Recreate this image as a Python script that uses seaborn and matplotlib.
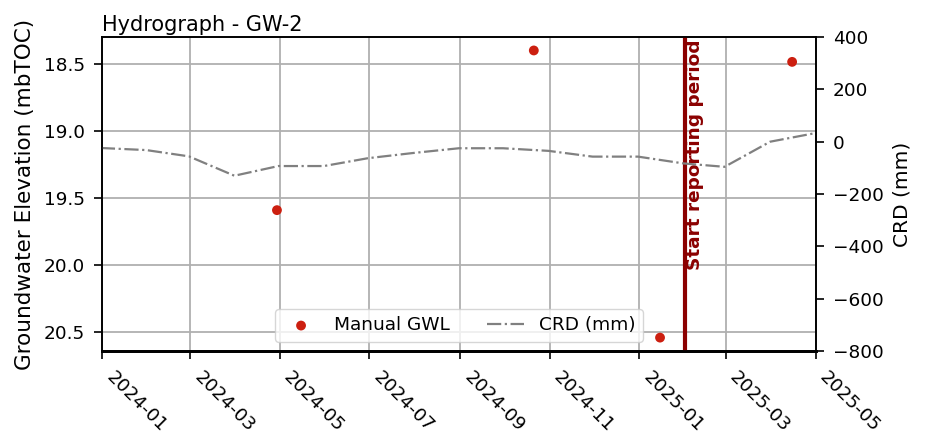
import numpy as np
import pandas as pd
import matplotlib
matplotlib.use('Agg')
import matplotlib.pyplot as plt
import matplotlib.dates as mdates
import seaborn as sns

# Manual groundwater level readings (mbTOC)
gwl_dates = ['2024-04-29', '2024-10-21', '2025-01-15', '2025-04-15']
gwl_values = [19.59, 18.40, 20.54, 18.485]

# Cumulative rainfall departure (mm), month end
crd_dates = ['2023-12-31', '2024-01-31', '2024-02-29', '2024-03-31', '2024-04-30',
             '2024-05-31', '2024-06-30', '2024-07-31', '2024-08-31', '2024-09-30',
             '2024-10-31', '2024-11-30', '2024-12-31', '2025-01-31', '2025-02-28',
             '2025-03-31', '2025-04-30']
crd_values = [-24, -32, -56, -130, -93, -93, -63, -43, -25, -25,
              -35, -57, -57, -83, -96, 0, 32]

report_start = '2025-02-01'

gwl = pd.DataFrame({'Date': pd.to_datetime(gwl_dates), 'GWL': gwl_values})
crd = pd.DataFrame({'Date': pd.to_datetime(crd_dates), 'CRD': crd_values})

plt.rcParams['font.size'] = 13.3
fig, ax = plt.subplots(figsize=(9.3, 4.41), dpi=100)
ax2 = ax.twinx()

sns.scatterplot(data=gwl, x='Date', y='GWL', ax=ax, color='#cc1f10', s=50,
                edgecolor='none', label='Manual GWL', legend=False, zorder=3)
sns.lineplot(data=crd, x='Date', y='CRD', ax=ax2, color='gray', linestyle='-.',
             linewidth=1.6, label='CRD (mm)', legend=False)

ax.axvline(pd.Timestamp(report_start), color='darkred', linewidth=3, zorder=4)
ax.text(pd.Timestamp(report_start) + pd.Timedelta(days=1), 18.32, 'Start reporting period',
        rotation=90, ha='left', va='top', color='darkred', fontweight='bold', fontsize=13.3)

ax.set_xlim(pd.Timestamp('2024-01-01'), pd.Timestamp('2025-05-01'))
ax.set_ylim(20.64, 18.30)
ax2.set_ylim(-800, 400)
ax.set_yticks([18.5, 19.0, 19.5, 20.0, 20.5])
ax.xaxis.set_major_locator(mdates.MonthLocator(bymonth=[1, 3, 5, 7, 9, 11]))
ax.xaxis.set_major_formatter(mdates.DateFormatter('%Y-%m'))

for a in (ax, ax2):
    a.tick_params(length=5.5, width=1.2, pad=7)
    for s in a.spines.values():
        s.set_linewidth(1.2)
ax.spines['bottom'].set_linewidth(2)
ax2.spines['bottom'].set_linewidth(2)
plt.setp(ax.get_xticklabels(), rotation=-45, ha='left')

ax.grid(True, color='#b0b0b0', linewidth=1.3)
ax.set_axisbelow(True)
ax.set_xlabel('')
ax.set_ylabel('Groundwater Elevation (mbTOC)', fontsize=15.5, labelpad=6)
ax2.set_ylabel('CRD (mm)', fontsize=14.5, labelpad=6)
ax.set_title('Hydrograph - GW-2', loc='left', fontsize=15, pad=4)

h1, l1 = ax.get_legend_handles_labels()
h2, l2 = ax2.get_legend_handles_labels()
ax2.legend(h1 + h2, l1 + l2, loc='lower center', ncol=2, fontsize=13.3)

fig.subplots_adjust(left=0.11, right=0.877, top=0.916, bottom=0.204)
fig.savefig('out.png', dpi=100)
